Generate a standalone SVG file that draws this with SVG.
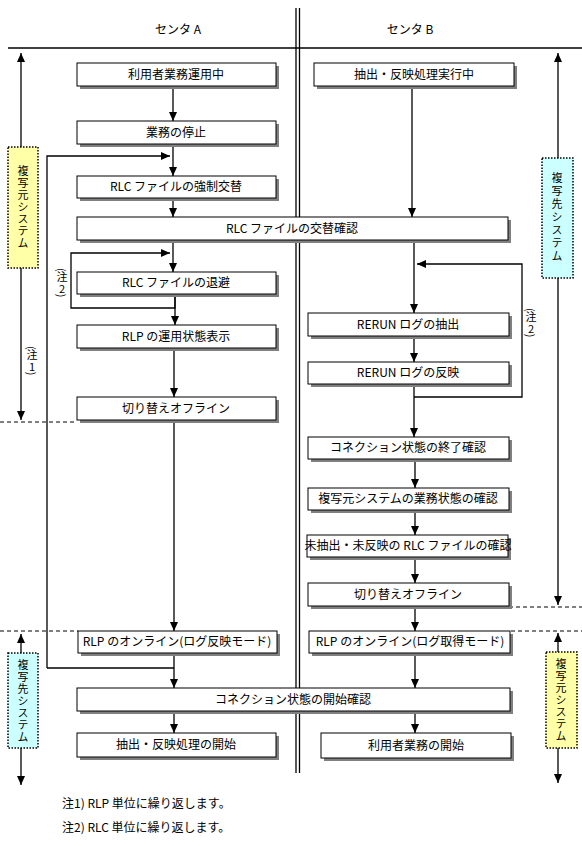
<svg xmlns="http://www.w3.org/2000/svg" width="582" height="846" viewBox="0 0 582 846">
<defs>
<marker id="ah" markerUnits="userSpaceOnUse" markerWidth="10" markerHeight="10" refX="9" refY="4" orient="auto" viewBox="0 0 10 8">
<path d="M0,0 L9,4 L0,8 z" fill="#000"/>
</marker>
<style>
.t{font-family:"Noto Sans CJK JP","Noto Sans",sans-serif;font-size:12px;fill:#000;text-anchor:middle}
.v{font-family:"Noto Sans CJK JP","Noto Sans",sans-serif;font-size:11px;fill:#000;writing-mode:vertical-rl;text-orientation:upright;letter-spacing:1px}
.n{font-family:"Noto Sans CJK JP","Noto Sans",sans-serif;font-size:11px;fill:#000;writing-mode:vertical-rl;text-orientation:mixed}
.u{text-orientation:upright}
.tl{font-family:"Noto Sans CJK JP","Noto Sans",sans-serif;font-size:12px;fill:#000}
.b{fill:#fff;stroke:#000;stroke-width:1}
.s{fill:#808080}
.ln{stroke:#000;stroke-width:1.3;fill:none}
.ar{stroke:#000;stroke-width:1.3;fill:none;marker-end:url(#ah)}
.d{stroke:#000;stroke-width:1;stroke-dasharray:4 3;fill:none}
.y{fill:#ffffa8;stroke:#000;stroke-width:1.5;stroke-dasharray:1.5 1.5}
.c{fill:#ccffff;stroke:#000;stroke-width:1.5;stroke-dasharray:1.5 1.5}
</style>
</defs>
<rect width="582" height="846" fill="#fff"/>
<g id="frame">
<line x1="296" y1="8" x2="296" y2="773" class="ln"/>
<line x1="299.5" y1="8" x2="299.5" y2="773" class="ln"/>
<line x1="8" y1="48" x2="582" y2="48" class="ln"/>
<text class="t" x="178" y="34">センタ A</text>
<text class="t" x="410" y="34">センタ B</text>
</g>
<g id="connectors">
<line x1="173" y1="86" x2="173" y2="121" class="ar"/>
<line x1="173" y1="144" x2="173" y2="176" class="ar"/>
<polyline points="47,668 47,156 170,156" class="ar"/>
<line x1="173" y1="198" x2="173" y2="217" class="ar"/>
<line x1="173" y1="240" x2="173" y2="272" class="ar"/>
<polyline points="175,294 175,308 71,308 71,253 170,253" class="ar"/>
<line x1="175" y1="294" x2="175" y2="325" class="ar"/>
<line x1="174" y1="348" x2="174" y2="397" class="ar"/>
<line x1="174" y1="420" x2="174" y2="631" class="ar"/>
<line x1="174" y1="653" x2="174" y2="688" class="ar"/>
<line x1="47" y1="668" x2="174" y2="668" class="ln"/>
<line x1="174" y1="711" x2="174" y2="733" class="ar"/>
<line x1="412" y1="86" x2="412" y2="217" class="ar"/>
<line x1="414" y1="240" x2="414" y2="313" class="ar"/>
<polyline points="414,397 522,397 522,264 417,264" class="ar"/>
<line x1="414" y1="336" x2="414" y2="362" class="ar"/>
<line x1="414" y1="384" x2="414" y2="437" class="ar"/>
<line x1="415" y1="459" x2="415" y2="488" class="ar"/>
<line x1="415" y1="510" x2="415" y2="535" class="ar"/>
<line x1="415" y1="557" x2="415" y2="583" class="ar"/>
<line x1="415" y1="606" x2="415" y2="631" class="ar"/>
<line x1="415" y1="653" x2="415" y2="688" class="ar"/>
<line x1="415" y1="711" x2="415" y2="733" class="ar"/>
<line x1="21" y1="147" x2="21" y2="53" class="ar"/>
<line x1="21" y1="268" x2="21" y2="420" class="ar"/>
<line x1="21" y1="653" x2="21" y2="634" class="ar"/>
<line x1="21" y1="748" x2="21" y2="785" class="ar"/>
<line x1="558" y1="158" x2="558" y2="53" class="ar"/>
<line x1="558" y1="278" x2="558" y2="605" class="ar"/>
<line x1="558" y1="652" x2="558" y2="633" class="ar"/>
<line x1="558" y1="748" x2="558" y2="783" class="ar"/>
<line x1="0" y1="422" x2="77" y2="422" class="d"/>
<line x1="509" y1="607" x2="582" y2="607" class="d"/>
<line x1="0" y1="631" x2="78" y2="631" class="d"/>
<line x1="511" y1="631" x2="582" y2="631" class="d"/>
</g>
<g id="n1"><rect class="s" x="80" y="66" width="199" height="23"/><rect class="b" x="77" y="63" width="199" height="23"/><text class="t" x="176" y="79">利用者業務運用中</text></g>
<g id="n2"><rect class="s" x="80" y="124" width="199" height="23"/><rect class="b" x="77" y="121" width="199" height="23"/><text class="t" x="176" y="137">業務の停止</text></g>
<g id="n3"><rect class="s" x="80" y="179" width="199" height="22"/><rect class="b" x="77" y="176" width="199" height="22"/><text class="t" x="176" y="191">RLC ファイルの強制交替</text></g>
<g id="n4"><rect class="s" x="80" y="220" width="431" height="23"/><rect class="b" x="77" y="217" width="431" height="23"/><text class="t" x="292" y="233">RLC ファイルの交替確認</text></g>
<g id="n5"><rect class="s" x="80" y="275" width="199" height="22"/><rect class="b" x="77" y="272" width="199" height="22"/><text class="t" x="176" y="287">RLC ファイルの退避</text></g>
<g id="n6"><rect class="s" x="80" y="328" width="199" height="23"/><rect class="b" x="77" y="325" width="199" height="23"/><text class="t" x="176" y="341">RLP の運用状態表示</text></g>
<g id="n7"><rect class="s" x="80" y="400" width="199" height="23"/><rect class="b" x="77" y="397" width="199" height="23"/><text class="t" x="176" y="413">切り替えオフライン</text></g>
<g id="n8"><rect class="s" x="81" y="634" width="199" height="22"/><rect class="b" x="78" y="631" width="199" height="22"/><text class="t" x="177" y="646">RLP のオンライン(ログ反映モード)</text></g>
<g id="n9"><rect class="s" x="80" y="691" width="433" height="23"/><rect class="b" x="77" y="688" width="433" height="23"/><text class="t" x="293" y="704">コネクション状態の開始確認</text></g>
<g id="n10"><rect class="s" x="80" y="736" width="199" height="24"/><rect class="b" x="77" y="733" width="199" height="24"/><text class="t" x="176" y="749">抽出・反映処理の開始</text></g>
<g id="m1"><rect class="s" x="317" y="66" width="200" height="23"/><rect class="b" x="314" y="63" width="200" height="23"/><text class="t" x="414" y="79">抽出・反映処理実行中</text></g>
<g id="m2"><rect class="s" x="311" y="316" width="201" height="23"/><rect class="b" x="308" y="313" width="201" height="23"/><text class="t" x="408" y="329">RERUN ログの抽出</text></g>
<g id="m3"><rect class="s" x="311" y="365" width="201" height="22"/><rect class="b" x="308" y="362" width="201" height="22"/><text class="t" x="408" y="377">RERUN ログの反映</text></g>
<g id="m4"><rect class="s" x="311" y="440" width="201" height="22"/><rect class="b" x="308" y="437" width="201" height="22"/><text class="t" x="408" y="452">コネクション状態の終了確認</text></g>
<g id="m5"><rect class="s" x="311" y="491" width="201" height="22"/><rect class="b" x="308" y="488" width="201" height="22"/><text class="t" x="408" y="503">複写元システムの業務状態の確認</text></g>
<g id="m6"><rect class="s" x="310" y="538" width="201" height="22"/><rect class="b" x="307" y="535" width="201" height="22"/><text class="t" x="408" y="550">未抽出・未反映の RLC ファイルの確認</text></g>
<g id="m7"><rect class="s" x="311" y="586" width="201" height="23"/><rect class="b" x="308" y="583" width="201" height="23"/><text class="t" x="408" y="599">切り替えオフライン</text></g>
<g id="m8"><rect class="s" x="312" y="634" width="201" height="22"/><rect class="b" x="309" y="631" width="201" height="22"/><text class="t" x="410" y="646">RLP のオンライン(ログ取得モード)</text></g>
<g id="m9"><rect class="s" x="324" y="736" width="190" height="25"/><rect class="b" x="321" y="733" width="190" height="25"/><text class="t" x="416" y="750">利用者業務の開始</text></g>
<g id="src1"><rect class="y" x="8" y="147" width="30" height="121"/>
<text class="v" x="23" y="165">複写元システム</text></g>
<g id="dst1"><rect class="c" x="542" y="158" width="31" height="120"/>
<text class="v" x="557" y="172" style="letter-spacing:2px">複写先システム</text></g>
<g id="dst2"><rect class="c" x="8" y="653" width="30" height="95"/>
<text class="v" x="23" y="659">複写先システム</text></g>
<g id="src2"><rect class="y" x="546" y="652" width="31" height="96"/>
<text class="v" x="561" y="658">複写元システム</text></g>
<g id="note1v"><text class="n" x="32" y="346">(注<tspan class="u">1</tspan>)</text></g>
<g id="note2l"><text class="n" x="62" y="268">(注<tspan class="u">2</tspan>)</text></g>
<g id="note2r"><text class="n" x="531" y="308">(注<tspan class="u">2</tspan>)</text></g>
<g id="notes">
<text class="tl" x="62" y="808">注1) RLP 単位に繰り返します。</text>
<text class="tl" x="62" y="832">注2) RLC 単位に繰り返します。</text>
</g>
</svg>
